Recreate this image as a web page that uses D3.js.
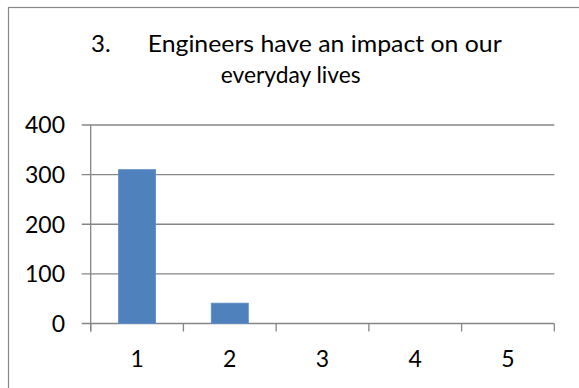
<!DOCTYPE html>
<html>
<head>
<meta charset="utf-8">
<script src="https://cdn.jsdelivr.net/npm/d3@7"></script>
<style>
  html, body { margin: 0; padding: 0; background: #fff; }
  svg { display: block; }
  text { font-family: Lato, "Open Sans", sans-serif; fill: #000; }
</style>
</head>
<body>
<svg id="chart" width="579" height="388"></svg>
<script>
// ---- data ----
const categories = ["1", "2", "3", "4", "5"];
const values = [310, 41, 0, 0, 0];
const yTicks = [0, 100, 200, 300, 400];
const titleNumber = "3.";
const titleLine1 = "Engineers have an impact on our";
const titleLine2 = "everyday lives";

// ---- layout ----
const W = 579, H = 388;
const svg = d3.select("#chart");
const plot = { left: 90.7, right: 554.3, top: 125, bottom: 323.5 };
const gridColor = "#868686";
const fontSize = 23;

// chart border (extends beyond the visible window on the right and bottom)
svg.append("rect")
  .attr("x", 8.5).attr("y", 7.5)
  .attr("width", W + 20).attr("height", H + 20)
  .attr("fill", "#fff").attr("stroke", "#888").attr("stroke-width", 1.2);

// scales
const x = d3.scaleBand().domain(categories)
  .range([plot.left, plot.right])
  .paddingInner(0.6).paddingOuter(0.3);
const y = d3.scaleLinear().domain([0, 400]).range([plot.bottom, plot.top]);

// gridlines + y ticks
svg.append("g").selectAll("line").data(yTicks).join("line")
  .attr("x1", plot.left - 9).attr("x2", plot.right)
  .attr("y1", d => y(d)).attr("y2", d => y(d))
  .attr("stroke", gridColor).attr("stroke-width", 1.3);

// y axis line
svg.append("line")
  .attr("x1", plot.left).attr("x2", plot.left)
  .attr("y1", y(400)).attr("y2", plot.bottom + 8)
  .attr("stroke", gridColor).attr("stroke-width", 1.3);

// x tick marks at category boundaries
const bounds = d3.range(categories.length + 1).map(i => plot.left + i * x.step());
svg.append("g").selectAll("line").data(bounds).join("line")
  .attr("x1", d => d).attr("x2", d => d)
  .attr("y1", plot.bottom).attr("y2", plot.bottom + 8)
  .attr("stroke", gridColor).attr("stroke-width", 1.3);

// y labels
svg.append("g").selectAll("text").data(yTicks).join("text")
  .attr("x", 65).attr("y", d => y(d))
  .attr("dy", "0.36em")
  .attr("text-anchor", "end")
  .attr("font-size", fontSize)
  .text(d => d);

// bars
svg.append("g").selectAll("rect").data(values).join("rect")
  .attr("x", (d, i) => x(categories[i]))
  .attr("width", x.bandwidth())
  .attr("y", d => y(d))
  .attr("height", d => y(0) - y(d))
  .attr("fill", "#4F81BD")
  .attr("stroke", "#5F8DC6").attr("stroke-width", 0.8);

// x labels
svg.append("g").selectAll("text").data(categories).join("text")
  .attr("x", d => x(d) + x.bandwidth() / 2)
  .attr("y", 367)
  .attr("text-anchor", "middle")
  .attr("font-size", fontSize)
  .text(d => d);

// title
const title = svg.append("g").attr("font-size", fontSize + 1);
title.append("text").attr("x", 91).attr("y", 52).text(titleNumber);
title.append("text").attr("x", 147.7).attr("y", 52)
  .attr("textLength", 354).attr("lengthAdjust", "spacingAndGlyphs")
  .text(titleLine1);
title.append("text").attr("x", 220.7).attr("y", 83)
  .attr("textLength", 140).attr("lengthAdjust", "spacingAndGlyphs")
  .text(titleLine2);
</script>
</body>
</html>
